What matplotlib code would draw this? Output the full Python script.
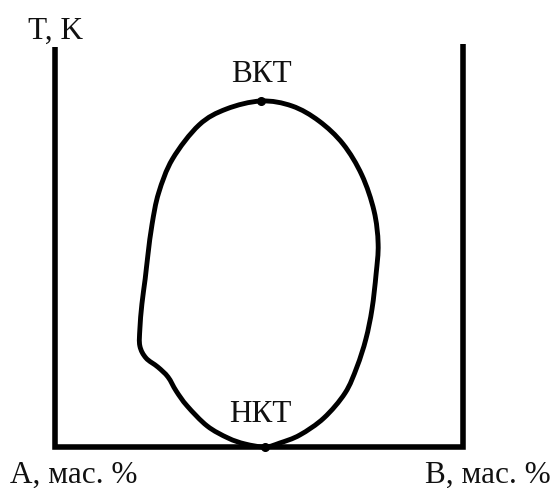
import matplotlib
matplotlib.use("Agg")
import matplotlib.pyplot as plt
import numpy as np
from matplotlib.path import Path
from matplotlib.patches import PathPatch

# Phase diagram: composition (mass %) vs temperature (arbitrary scale 0..100)
left_x = [51.5, 46.6, 42.4, 37.3, 32.4, 29.7, 27.7, 25.2, 22.3, 20.8, 20.8, 21.3,
          22.1, 22.8, 23.8, 25.4, 28.8, 35.3, 42.0, 50.5]
left_T = [0.0, 0.75, 2.25, 5.25, 10.25, 14.0, 17.5, 20.0, 22.25, 25.25, 29.5, 35.75,
          42.0, 48.25, 55.75, 63.5, 72.0, 80.5, 84.5, 86.5]
right_x = [50.5, 58.1, 64.7, 70.6, 75.2, 78.2, 79.2, 78.7, 77.7, 76.2, 74.0, 71.1,
           65.9, 60.0, 55.1, 51.5]
right_T = [86.5, 85.25, 81.5, 75.75, 68.0, 59.0, 50.75, 43.25, 34.5, 27.0, 20.0,
           13.5, 7.25, 3.0, 1.0, 0.0]

critical_labels = ["ВКТ", "НКТ"]
critical_x = [50.5, 51.5]
critical_T = [86.5, 0.0]

axis_labels = ["T, K", "А, мас. %", "В, мас. %"]

W, H = 555, 489
fig = plt.figure(figsize=(W / 100, H / 100), dpi=100)
fig.patch.set_facecolor("white")
ax = fig.add_axes([55 / W, (H - 448) / H, (463 - 55) / W, (448 - 48) / H])
ax.set_xlim(0, 100)
ax.set_ylim(0, 100)
ax.axis("off")

lw_frame = 4.0
# frame: left axis, bottom axis, right axis (B)
ax.plot([0, 0, 100, 100], [100, 0, 0, 100.75], color="black", lw=lw_frame,
        solid_joinstyle="miter", solid_capstyle="butt", clip_on=False)

# solubility curve: closed smooth path (Catmull-Rom -> cubic Bezier) through the points
pts = np.column_stack([left_x + right_x[1:-1], left_T + right_T[1:-1]])
n = len(pts)
verts = [pts[0]]
codes = [Path.MOVETO]
for i in range(n):
    p0, p1, p2, p3 = pts[(i - 1) % n], pts[i], pts[(i + 1) % n], pts[(i + 2) % n]
    c1 = p1 + (p2 - p0) / 6.0
    c2 = p2 - (p3 - p1) / 6.0
    verts += [c1, c2, p2]
    codes += [Path.CURVE4] * 3
curve = PathPatch(Path(verts, codes), facecolor="none", edgecolor="black", lw=3.5,
                  joinstyle="round", capstyle="round", clip_on=False)
ax.add_patch(curve)

# critical points
ax.plot(critical_x, critical_T, "o", color="black", markersize=5.5, clip_on=False)

font = dict(family="Liberation Serif", fontsize=22.5, color="#111111")
ax.text(critical_x[0], 91.5, critical_labels[0], ha="center", va="baseline", **font)
ax.text(critical_x[1] - 1.3, 6.5, critical_labels[1], ha="center", va="baseline", **font)
ax.text(0, 102.25, axis_labels[0], ha="center", va="baseline", clip_on=False, **font)
ax.text(4.5, -8.75, axis_labels[1], ha="center", va="baseline", clip_on=False, **font)
ax.text(106, -8.75, axis_labels[2], ha="center", va="baseline", clip_on=False, **font)

fig.savefig("out.png", dpi=100, facecolor="white")
